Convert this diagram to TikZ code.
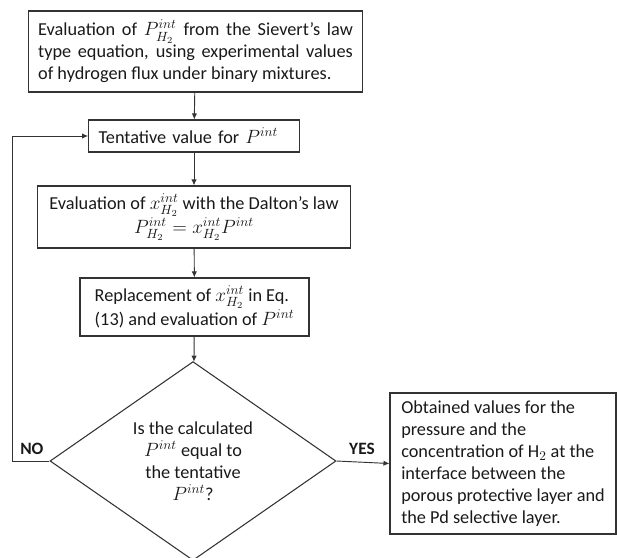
\documentclass[tikz,border=0pt]{standalone}
\usepackage{amsmath}
\usepackage{fontspec}
\setmainfont{Carlito}
\usepackage{tikz}
\usetikzlibrary{positioning,shapes.geometric,arrows.meta}
\hyphenpenalty=10000

\begin{document}
\begin{tikzpicture}[x=0.75pt,y=-0.75pt,
  font=\fontsize{13.7pt}{16.5pt}\selectfont,
  every node/.style={text=black!90},
  stepbox/.style={draw=black!80,line width=0.8pt,inner xsep=7.5pt,inner ysep=3pt},
  decision/.style={draw=black!80,line width=0.8pt,shape=diamond,inner sep=0pt,align=center},
  link/.style={draw=black!80,line width=0.7pt,-{Latex[length=4.5pt,width=4pt]}},
  answer/.style={font=\fontsize{13pt}{16pt}\selectfont\bfseries}]
\useasboundingbox (0,0) rectangle (617,557);
% steps of the iteration
\node[stepbox,text width=236pt,align=justify,minimum height=60.75pt] (sievert) at (195.5,51.5)
  {Evaluation of $P_{H_2}^{int}$ from the Sievert's law type equation, using experimental values of hydrogen flux under binary mixtures.};
\node[stepbox,text width=143pt,align=left,minimum height=24pt] (guess) at (194,136)
  {Tentative value for $P^{int}$};
\node[stepbox,align=center,minimum width=234.75pt,minimum height=46.5pt] (dalton) at (194,217)
  {Evaluation of $x_{H_2}^{int}$ with the Dalton's law\\ \mbox{$P_{H_2}^{int}=x_{H_2}^{int}P^{int}$}};
\node[stepbox,align=left,minimum width=171.75pt,minimum height=43.5pt] (replace) at (194.5,307)
  {Replacement of $x_{H_2}^{int}$ in Eq.\\ (13) and evaluation of $P^{int}$};
\node[decision,minimum width=214.5pt,minimum height=147pt] (check) at (193,461)
  {Is the calculated\\ $P^{int}$ equal to\\ the tentative\\ $P^{int}$?};
\node[stepbox,align=left,minimum width=169.5pt,minimum height=105.75pt] (result) at (503,463.5)
  {Obtained values for the\\ pressure and the\\ concentration of H$_2$ at the\\ interface between the\\ porous protective layer and\\ the Pd selective layer.};
% connectors
\draw[link] (sievert) -- (guess);
\draw[link] (guess) -- (dalton);
\draw[link] (dalton) -- (replace);
\draw[link] (replace) -- (check);
\draw[link] (check.west) -- ++(-37,0) |- (guess.west);
\draw[link] (check.east) -- (result.west);
\node[answer,above left=1pt and 1pt of check.west] (no) {NO};
\node[answer,above right=1pt and 6pt of check.east] (yes) {YES};
\end{tikzpicture}
\end{document}
